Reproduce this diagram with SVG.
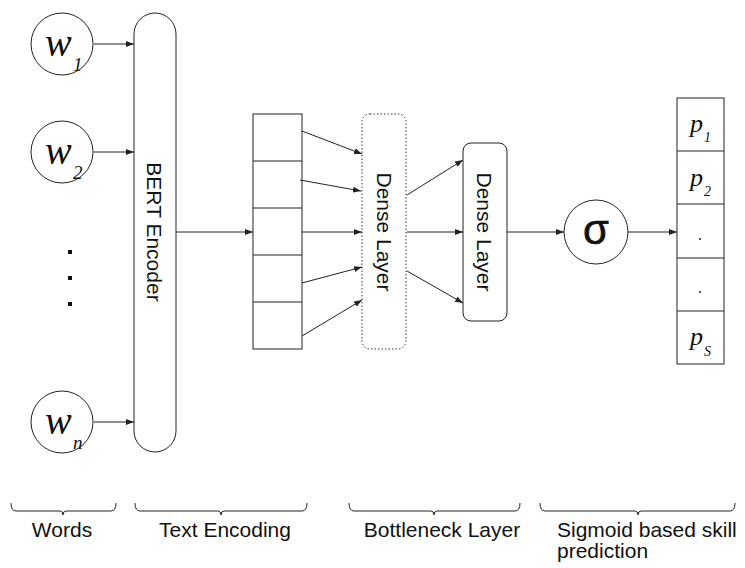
<svg xmlns="http://www.w3.org/2000/svg" width="745" height="568" viewBox="0 0 745 568">
<style>
.ln{stroke:#222;stroke-width:1;fill:none}
.box{stroke:#222;stroke-width:1;fill:#fff}
.sans{font-family:"Liberation Sans",Arial,sans-serif;fill:#111}
.ser{font-family:"Liberation Serif","Times New Roman",serif;font-style:italic;fill:#111}
.lbl{font-size:21px;text-anchor:middle}
.rot{font-size:21px;text-anchor:middle}
</style>
<defs>
<marker id="ah" markerWidth="8" markerHeight="6" refX="8" refY="3" orient="auto" markerUnits="userSpaceOnUse">
<path d="M0,0 L8,3 L0,6 Z" fill="#222"/>
</marker>
</defs>
<rect width="745" height="568" fill="#fff"/>

<g id="w1"><circle class="box" cx="62" cy="44" r="31"/><text class="ser" x="45" y="56" font-size="40">w</text><text class="ser" x="73" y="71" font-size="19">1</text></g>
<g id="w2"><circle class="box" cx="62" cy="152" r="31"/><text class="ser" x="45" y="164" font-size="40">w</text><text class="ser" x="73" y="179" font-size="19">2</text></g>
<g id="dots"><rect x="68" y="250" width="4" height="4" fill="#111"/><rect x="68" y="276" width="4" height="4" fill="#111"/><rect x="68" y="302" width="4" height="4" fill="#111"/></g>
<g id="wn"><circle class="box" cx="62" cy="422" r="31"/><text class="ser" x="45" y="434" font-size="40">w</text><text class="ser" x="73" y="449" font-size="19">n</text></g>

<g id="bert"><rect class="box" x="134" y="13" width="42" height="439" rx="21"/><text class="sans rot" transform="translate(147,232) rotate(90)">BERT Encoder</text></g>

<g id="encoding">
<rect class="box" x="253" y="114" width="49" height="235"/>
<line class="ln" x1="253" y1="161" x2="302" y2="161"/>
<line class="ln" x1="253" y1="208" x2="302" y2="208"/>
<line class="ln" x1="253" y1="255" x2="302" y2="255"/>
<line class="ln" x1="253" y1="302" x2="302" y2="302"/>
</g>

<g id="dense1"><rect x="362" y="114" width="44" height="235" rx="8" fill="#fff" stroke="#333" stroke-width="1" stroke-dasharray="1.5,2"/><text class="sans rot" transform="translate(377,232) rotate(90)">Dense Layer</text></g>
<g id="dense2"><rect class="box" x="463" y="143" width="44" height="178" rx="8"/><text class="sans rot" transform="translate(477,232) rotate(90)">Dense Layer</text></g>

<g id="sigma"><circle class="box" cx="596" cy="232" r="32"/><text class="sans" x="596" y="244" font-size="42" text-anchor="middle" stroke="#111" stroke-width="0.6">σ</text></g>

<g id="output">
<rect class="box" x="677" y="98" width="47" height="266"/>
<line class="ln" x1="677" y1="151" x2="724" y2="151"/>
<line class="ln" x1="677" y1="204" x2="724" y2="204"/>
<line class="ln" x1="677" y1="258" x2="724" y2="258"/>
<line class="ln" x1="677" y1="311" x2="724" y2="311"/>
<text class="ser" x="690" y="132" font-size="26">p</text><text class="ser" x="704" y="142" font-size="14">1</text>
<text class="ser" x="690" y="186" font-size="26">p</text><text class="ser" x="704" y="196" font-size="14">2</text>
<circle cx="700" cy="239" r="1" fill="#222"/>
<circle cx="700" cy="292" r="1" fill="#222"/>
<text class="ser" x="690" y="345" font-size="26">p</text><text class="ser" x="704" y="356" font-size="14">S</text>
</g>

<g id="connectors">
<line class="ln" x1="94" y1="44" x2="134" y2="44" marker-end="url(#ah)"/>
<line class="ln" x1="94" y1="152" x2="134" y2="152" marker-end="url(#ah)"/>
<line class="ln" x1="94" y1="422" x2="134" y2="422" marker-end="url(#ah)"/>
<line class="ln" x1="176" y1="232" x2="253" y2="232" marker-end="url(#ah)"/>
<line class="ln" x1="302" y1="131" x2="362" y2="154" marker-end="url(#ah)"/>
<line class="ln" x1="300" y1="180" x2="361" y2="191" marker-end="url(#ah)"/>
<line class="ln" x1="302" y1="232" x2="362" y2="232" marker-end="url(#ah)"/>
<line class="ln" x1="302" y1="283" x2="362" y2="267" marker-end="url(#ah)"/>
<line class="ln" x1="302" y1="336" x2="362" y2="300" marker-end="url(#ah)"/>
<line class="ln" x1="407" y1="195" x2="463" y2="160" marker-end="url(#ah)"/>
<line class="ln" x1="407" y1="232" x2="463" y2="232" marker-end="url(#ah)"/>
<line class="ln" x1="407" y1="271" x2="463" y2="303" marker-end="url(#ah)"/>
<line class="ln" x1="507" y1="232" x2="564" y2="232" marker-end="url(#ah)"/>
<line class="ln" x1="628" y1="232" x2="677" y2="232" marker-end="url(#ah)"/>
</g>

<g id="braces">
<path class="ln" d="M11,503 Q11,511 16,511 L60,511 Q63,511 63,515 Q63,511 66,511 L111,511 Q116,511 116,503"/>
<path class="ln" d="M135,503 Q135,511 140,511 L218,511 Q221,511 221,515 Q221,511 224,511 L302,511 Q307,511 307,503"/>
<path class="ln" d="M349,503 Q349,511 354,511 L431,511 Q434,511 434,515 Q434,511 437,511 L515,511 Q520,511 520,503"/>
<path class="ln" d="M540,503 Q540,511 545,511 L635,511 Q638,511 638,515 Q638,511 641,511 L730,511 Q735,511 735,503"/>
</g>
<g id="labels">
<text class="sans lbl" x="62" y="537">Words</text>
<text class="sans lbl" x="225" y="537">Text Encoding</text>
<text class="sans lbl" x="442" y="537">Bottleneck Layer</text>
<text class="sans" x="557" y="537" font-size="21">Sigmoid based skill</text>
<text class="sans" x="557" y="558" font-size="21">prediction</text>
</g>
</svg>
